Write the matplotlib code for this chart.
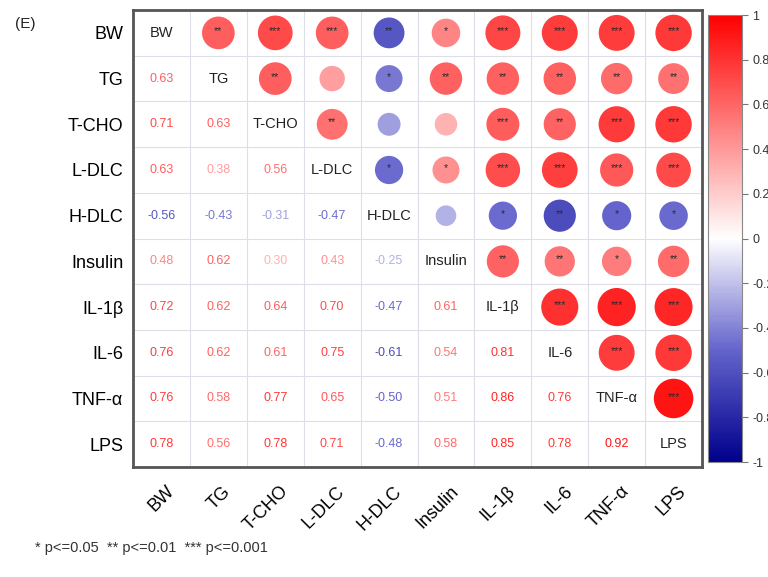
import matplotlib
matplotlib.use("Agg")
import matplotlib.pyplot as plt
import matplotlib.transforms as mtransforms
import numpy as np
from matplotlib.colors import LinearSegmentedColormap

plt.rcParams['font.family'] = ['Liberation Sans', 'DejaVu Sans']

labels = ["BW", "TG", "T-CHO", "L-DLC", "H-DLC", "Insulin", "IL-1β", "IL-6", "TNF-α", "LPS"]

# lower triangle correlations, row by row
lower = [
    [],
    [0.63],
    [0.71, 0.63],
    [0.63, 0.38, 0.56],
    [-0.56, -0.43, -0.31, -0.47],
    [0.48, 0.62, 0.30, 0.43, -0.25],
    [0.72, 0.62, 0.64, 0.70, -0.47, 0.61],
    [0.76, 0.62, 0.61, 0.75, -0.61, 0.54, 0.81],
    [0.76, 0.58, 0.77, 0.65, -0.50, 0.51, 0.86, 0.76],
    [0.78, 0.56, 0.78, 0.71, -0.48, 0.58, 0.85, 0.78, 0.92],
]

# significance stars for the upper triangle, row by row
stars = [
    ["**", "***", "***", "**", "*", "***", "***", "***", "***"],
    ["**", "", "*", "**", "**", "**", "**", "**"],
    ["**", "", "", "***", "**", "***", "***"],
    ["*", "*", "***", "***", "***", "***"],
    ["", "*", "**", "*", "*"],
    ["**", "**", "*", "**"],
    ["***", "***", "***"],
    ["***", "***"],
    ["***"],
]

cbar_ticks = [-1, -0.8, -0.6, -0.4, -0.2, 0, 0.2, 0.4, 0.6, 0.8, 1]

n = len(labels)
corr = np.eye(n)
for i, row in enumerate(lower):
    for j, v in enumerate(row):
        corr[i, j] = v
        corr[j, i] = v

cmap = LinearSegmentedColormap.from_list(
    "bwr_corr",
    [(0.0, (0.0, 0.0, 0.55)), (0.25, (0.39, 0.39, 0.80)), (0.5, (1, 1, 1)),
     (0.75, (1.0, 0.5, 0.5)), (1.0, (1.0, 0.0, 0.0))])

fig = plt.figure(figsize=(7.68, 5.77), dpi=100)
ax = fig.add_axes([0.1732, 0.1906, 0.7409, 0.7920])
ax.set_xlim(0, n)
ax.set_ylim(n, 0)

for k in range(1, n):
    ax.axvline(k, color="#dedee8", lw=0.8, zorder=0)
    ax.axhline(k, color="#dedee8", lw=0.8, zorder=0)

# upper triangle circles
xs, ys, vals, stxt = [], [], [], []
for i in range(n):
    for j in range(i + 1, n):
        xs.append(j + 0.5)
        ys.append(i + 0.5)
        vals.append(corr[i, j])
        stxt.append(stars[i][j - i - 1])
vals = np.array(vals)
ax.scatter(xs, ys, s=880 * np.abs(vals), c=vals, cmap=cmap, vmin=-1, vmax=1,
           edgecolors="none", zorder=2)
for x, y, s in zip(xs, ys, stxt):
    if s:
        ax.text(x, y - 0.04, s, ha="center", va="center", fontsize=7.5,
                color="#2a2a2a", zorder=3)

# diagonal names and lower triangle values
for i in range(n):
    ax.text(i + 0.5, i + 0.5, labels[i], ha="center", va="center",
            fontsize=10.5, color="#222222")
    for j in range(i):
        v = corr[i, j]
        ax.text(j + 0.5, i + 0.5, "%.2f" % v, ha="center", va="center",
                fontsize=9, color=cmap((v + 1) / 2))

ax.set_xticks(np.arange(n) + 0.5)
ax.set_yticks(np.arange(n) + 0.5)
ax.set_xticklabels(labels, rotation=45, ha="right", va="top",
                   rotation_mode="anchor", fontsize=13)
ax.set_yticklabels(labels, fontsize=13)
ax.tick_params(length=0, pad=7)
shift = mtransforms.ScaledTranslation(4 / 100, -6 / 100, fig.dpi_scale_trans)
for lab in ax.get_xticklabels():
    lab.set_transform(lab.get_transform() + shift)
for sp in ax.spines.values():
    sp.set_linewidth(2)
    sp.set_color("#555555")

cax = fig.add_axes([0.9219, 0.1993, 0.0443, 0.7747])
sm = plt.cm.ScalarMappable(cmap=cmap, norm=plt.Normalize(-1, 1))
cb = fig.colorbar(sm, cax=cax, ticks=cbar_ticks)
cb.ax.set_yticklabels(["%g" % t for t in cbar_ticks])
cb.ax.tick_params(labelsize=9, length=4, color="#777777", labelcolor="#333333")
cb.outline.set_edgecolor("#888888")
cb.outline.set_linewidth(0.8)

fig.text(15 / 768, 1 - 24 / 577, "(E)", fontsize=11, va="center", color="#222222")
fig.text(35 / 768, 1 - 548 / 577, "* p<=0.05  ** p<=0.01  *** p<=0.001",
         fontsize=10.5, va="center", color="#333333")

fig.savefig("out.png", dpi=100)
